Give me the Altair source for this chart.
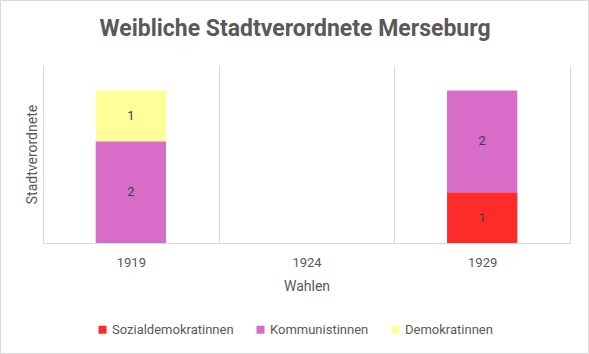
import altair as alt
import pandas as pd

# Data
year_labels = ["1919", "1924", "1929"]
party_order = ["Sozialdemokratinnen", "Kommunistinnen", "Demokratinnen"]
party_colors = ["#FF2B2B", "#D76CC9", "#FFFF99"]

wahl = ["1919", "1919", "1929", "1929"]
partei = ["Kommunistinnen", "Demokratinnen", "Sozialdemokratinnen", "Kommunistinnen"]
anzahl = [2, 1, 1, 2]

df = pd.DataFrame({"Wahl": wahl, "Partei": partei, "Anzahl": anzahl})
df["rank"] = df["Partei"].map({p: i for i, p in enumerate(party_order)})

FONT = "Roboto"
GRAY = "#595959"
LINE = "#d9d9d9"

base = alt.Chart(df).transform_stack(
    stack="Anzahl", groupby=["Wahl"], as_=["y0", "y1"],
    sort=[alt.SortField("rank", order="ascending")]
).transform_calculate(mid="(datum.y0 + datum.y1) / 2")

x_enc = alt.X(
    "Wahl:N",
    scale=alt.Scale(domain=year_labels, paddingInner=0, paddingOuter=0),
    axis=alt.Axis(
        title="Wahlen", labelAngle=0, ticks=False, grid=True, tickBand="extent",
        gridColor=LINE, gridWidth=1, domainColor=LINE, domainWidth=1,
        labelPadding=13, labelFontSize=13, labelColor=GRAY, labelFont=FONT,
        titleFontSize=14, titleColor=GRAY, titleFont=FONT, titleFontWeight="normal",
        titlePadding=10,
    ),
)

bars = base.mark_bar(width=alt.RelativeBandSize(0.4)).encode(
    x=x_enc,
    y=alt.Y(
        "y0:Q",
        scale=alt.Scale(domain=[0, 3.5], nice=False),
        axis=alt.Axis(
            title="Stadtverordnete", labels=False, ticks=False, domain=False, grid=False,
            titleFontSize=14, titleColor=GRAY, titleFont=FONT, titleFontWeight="normal",
            titlePadding=4,
        ),
    ),
    y2="y1:Q",
    color=alt.Color(
        "Partei:N",
        scale=alt.Scale(domain=party_order, range=party_colors),
        legend=alt.Legend(
            title=None, orient="none", direction="horizontal", legendX=53, legendY=258,
            symbolType="square", symbolSize=64, symbolStrokeWidth=0,
            labelFontSize=13, labelColor=GRAY, labelFont=FONT, labelOffset=3,
            columnPadding=20,
        ),
    ),
)

labels = base.mark_text(fontSize=13, color="#404040", font=FONT).encode(
    x=alt.X("Wahl:N", scale=alt.Scale(domain=year_labels, paddingInner=0, paddingOuter=0)),
    y=alt.Y("mid:Q"),
    text=alt.Text("Anzahl:Q"),
)

border = alt.Chart(pd.DataFrame({"a": [0]})).mark_rect(
    fill="transparent", stroke=LINE, strokeWidth=1, clip=False
).encode(
    x=alt.value(-42.5), x2=alt.value(545.5), y=alt.value(-64.5), y2=alt.value(288.5)
)

chart = alt.layer(bars, labels, border).properties(
    width=527, height=178,
    background="white",
    autosize=alt.AutoSizeParams(type="none"),
    padding={"left": 43, "top": 65, "right": 19, "bottom": 111},
    title=alt.TitleParams(
        "Weibliche Stadtverordnete Merseburg", font=FONT, fontSize=23, fontWeight="bold",
        color=GRAY, anchor="middle", frame="group", dx=-11.5, offset=-59, baseline="alphabetic",
    ),
).configure_view(strokeWidth=0)

chart.save("out.html", embed_options={"renderer": "svg", "actions": False})
